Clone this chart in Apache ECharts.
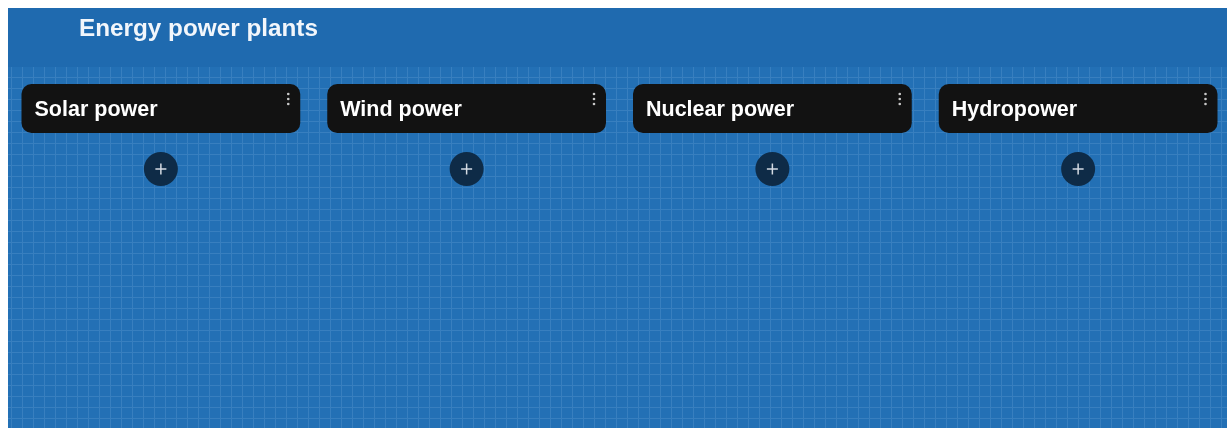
<!DOCTYPE html>
<html>
<head>
<meta charset="utf-8">
<script src="https://cdn.jsdelivr.net/npm/echarts@6/dist/echarts.min.js"></script>
<style>
html,body{margin:0;padding:0;background:#fff;}
#chart{width:1231px;height:428px;}
</style>
</head>
<body>
<div id="chart"></div>
<script>
// Data
const boardTitle = 'Energy power plants';
const columns = ['Solar power', 'Wind power', 'Nuclear power', 'Hydropower'];
const cardCounts = [0, 0, 0, 0];

// grid pattern
const pat = document.createElement('canvas');
pat.width = 11; pat.height = 11;
const pc = pat.getContext('2d');
pc.fillStyle = '#2370b5';
pc.fillRect(0, 0, 11, 11);
pc.fillStyle = 'rgba(170,205,240,0.16)';
pc.fillRect(0, 0, 11, 1);
pc.fillRect(0, 1, 1, 10);

const chart = echarts.init(document.getElementById('chart'), null, {renderer: 'canvas'});

const FONT = '"Liberation Sans", Arial, Helvetica, sans-serif';

chart.setOption({
  backgroundColor: '#ffffff',
  animation: false,
  graphic: [
    {type: 'rect', z: 0, shape: {x: 8, y: 8, width: 1219, height: 420}, style: {fill: {image: pat, repeat: 'repeat'}}},
    {type: 'rect', z: 1, shape: {x: 8, y: 8, width: 1219, height: 59}, style: {fill: '#1f6aaf'}},
    {type: 'text', z: 2, style: {text: boardTitle, x: 79, y: 29, verticalAlign: 'middle', fill: '#f2f6fb', font: 'bold 24.3px ' + FONT}}
  ],
  grid: {left: 8, right: -2, top: 68, bottom: 0},
  xAxis: {type: 'category', data: columns, show: false, boundaryGap: true},
  yAxis: {type: 'value', min: 0, max: 1, show: false},
  series: [{
    type: 'custom',
    data: columns.map((c, i) => [i, cardCounts[i]]),
    renderItem: function (params, api) {
      const idx = api.value(0);
      const center = api.coord([idx, 1]);
      const band = api.size([1, 0])[0];
      const w = band - 27;
      const x0 = center[0] - w / 2;
      const cy = 169;
      return {
        type: 'group',
        children: [
          {type: 'rect', shape: {x: x0, y: 84, width: w, height: 49, r: 10}, style: {fill: '#121212'}},
          {type: 'text', style: {text: columns[idx], x: x0 + 13, y: 110, verticalAlign: 'middle', fill: '#ffffff', font: 'bold 21.5px ' + FONT}},
          {type: 'circle', shape: {cx: x0 + w - 12, cy: 94, r: 1.3}, style: {fill: '#c8c8c8'}},
          {type: 'circle', shape: {cx: x0 + w - 12, cy: 99, r: 1.3}, style: {fill: '#c8c8c8'}},
          {type: 'circle', shape: {cx: x0 + w - 12, cy: 104, r: 1.3}, style: {fill: '#c8c8c8'}},
          {type: 'circle', shape: {cx: center[0], cy: cy, r: 17}, style: {fill: '#0e2b47'}},
          {type: 'rect', shape: {x: center[0] - 5.5, y: cy - 0.75, width: 11, height: 1.5}, style: {fill: '#d5dbe3'}},
          {type: 'rect', shape: {x: center[0] - 0.75, y: cy - 5.5, width: 1.5, height: 11}, style: {fill: '#d5dbe3'}}
        ]
      };
    }
  }]
});
</script>
</body>
</html>
